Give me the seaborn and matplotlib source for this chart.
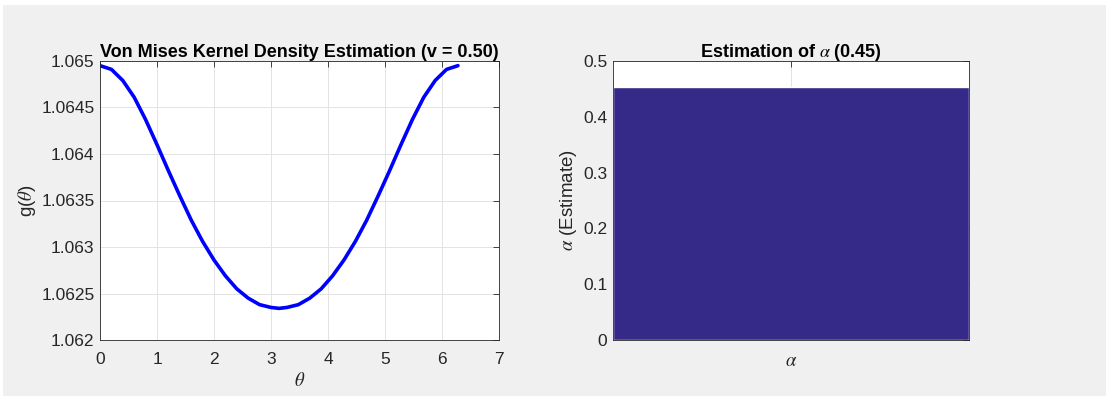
import matplotlib
matplotlib.use("Agg")
import matplotlib.pyplot as plt
import seaborn as sb
import pandas as pd
from matplotlib.patches import Rectangle
from matplotlib.ticker import FuncFormatter

# Values
theta = [0.0, 0.2, 0.4, 0.6, 0.8, 1.0, 1.2, 1.4, 1.6, 1.8, 2.0, 2.2, 2.4, 2.6, 2.8, 3.0, 3.14,
         3.28, 3.48, 3.68, 3.88, 4.08, 4.28, 4.48, 4.68, 4.88, 5.08, 5.28, 5.48, 5.68, 5.88, 6.08, 6.28]
g_theta = [1.06495, 1.06491, 1.06479, 1.06461, 1.06437, 1.06410, 1.06382, 1.06355, 1.06329,
           1.06306, 1.06286, 1.06269, 1.06255, 1.06245, 1.06238, 1.06235, 1.06234,
           1.06235, 1.06238, 1.06245, 1.06255, 1.06269, 1.06286, 1.06306, 1.06329, 1.06355,
           1.06382, 1.06410, 1.06437, 1.06461, 1.06479, 1.06491, 1.06495]

alpha_labels = ["$\\alpha$"]
alpha_values = [0.453]

x_ticks = [0, 1, 2, 3, 4, 5, 6, 7]
g_ticks = [1.062, 1.0625, 1.063, 1.0635, 1.064, 1.0645, 1.065]
a_ticks = [0, 0.1, 0.2, 0.3, 0.4, 0.5]

# Make the plot look like the MATLAB figure
sb.set_theme(style="white")
matplotlib.rcParams['font.family'] = ['Liberation Sans', 'DejaVu Sans']
matplotlib.rcParams['mathtext.fontset'] = 'stix'
text_col = '#262626'
grid_col = '#e3e3e3'

fig = plt.figure(figsize=(11.06, 3.96), dpi=100, facecolor='white')
fig.patches.append(Rectangle((3 / 1106, 0), 1, (396 - 5) / 396, transform=fig.transFigure,
                             facecolor='#f0f0f0', edgecolor='none', zorder=-10))

ax1 = fig.add_axes([100 / 1106, 56 / 396, 399 / 1106, 279 / 396])
ax2 = fig.add_axes([613 / 1106, 56 / 396, 356 / 1106, 279 / 396])

for ax in (ax1, ax2):
    ax.set_facecolor('white')
    for sp in ax.spines.values():
        sp.set_color('#262626')
        sp.set_linewidth(0.6)
    ax.tick_params(direction='in', length=4, width=0.6, color='#262626', labelcolor=text_col,
                   labelsize=12.5, top=True, right=True)
    ax.tick_params(axis='x', pad=9)
    ax.tick_params(axis='y', pad=4)
    ax.grid(True, color=grid_col, linewidth=0.7)
    ax.set_axisbelow(True)

# Left: kernel density curve
df = pd.DataFrame({'theta': theta, 'g': g_theta})
sb.lineplot(data=df, x='theta', y='g', ax=ax1, color='#0000ff', linewidth=2.6, sort=False)
ax1.set_xlim(0, 7)
ax1.set_ylim(1.062, 1.065)
ax1.set_xticks(x_ticks)
ax1.set_yticks(g_ticks)
ax1.yaxis.set_major_formatter(FuncFormatter(lambda v, p: '{:g}'.format(round(v, 6))))
ax1.set_xlabel('$\\theta$', fontsize=13.5, color=text_col, labelpad=3)
ax1.set_ylabel('g($\\theta$)', fontsize=13.5, color=text_col, labelpad=2)
ax1.set_title('Von Mises Kernel Density Estimation (v = 0.50)', fontsize=13,
              fontweight='bold', color='black', pad=3)

# Right: alpha estimate bar
df2 = pd.DataFrame({'param': alpha_labels, 'value': alpha_values})
sb.barplot(data=df2, x='param', y='value', ax=ax2, color='#352a87', saturation=1, width=1)
ax2.set_xlim(-0.5, 0.5)
ax2.set_ylim(0, 0.5)
ax2.set_yticks(a_ticks)
ax2.yaxis.set_major_formatter(FuncFormatter(lambda v, p: '{:g}'.format(round(v, 6))))
ax2.xaxis.grid(True, color=grid_col, linewidth=0.7)
ax2.tick_params(axis='x', labelsize=13.5, pad=9)
ax2.set_xlabel('')
ax2.set_ylabel('$\\alpha$ (Estimate)', fontsize=13.5, color=text_col, labelpad=3)
ax2.set_title('Estimation of $\\alpha$ (0.45)', fontsize=13, fontweight='bold',
              color='black', pad=3)

plt.savefig('out.png', dpi=100, facecolor=fig.get_facecolor())
